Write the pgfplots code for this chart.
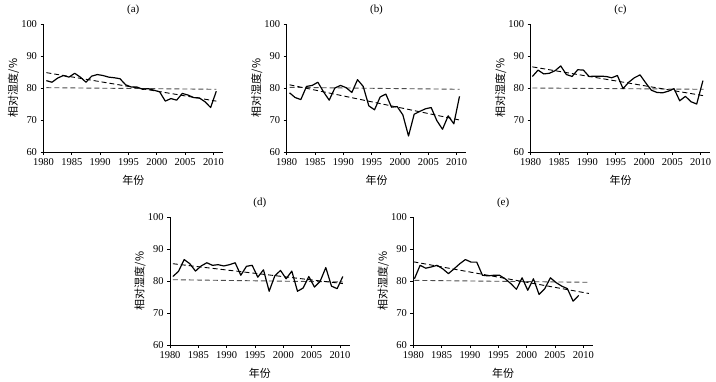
\documentclass[border=0pt]{standalone}
\usepackage{pgfplots}
\pgfplotsset{compat=1.18}
\usepackage{fontspec}
\setmainfont{Liberation Serif}
\newfontfamily\cjk{Noto Sans CJK SC}
\begin{document}
\begin{tikzpicture}
\pgfplotsset{
 panel/.style={
  scale only axis, width=179.6bp, height=128bp,
  xmin=1980, xmax=2011.7, ymin=60, ymax=100,
  axis lines*=left,
  axis line style={line width=0.8pt},
  xtick={1980,1985,...,2010}, ytick={60,70,80,90,100},
  tick align=outside, major tick length=3bp,
  every tick/.style={black, line width=0.8pt},
  tick label style={font=\fontsize{10.5}{12}\selectfont},
  /pgf/number format/assume math mode=true,
  /pgf/number format/1000 sep={},
  xlabel={\cjk 年份}, ylabel={\cjk 相对湿度/\%},
  label style={font=\fontsize{11}{13}\selectfont},
  xlabel style={at={(axis description cs:0.5,-0.219)}, anchor=center},
  ylabel style={at={(axis description cs:-0.167,0.5)}, anchor=center},
  every axis title shift=0pt,
  title style={at={(axis description cs:0.5,1.109)}, anchor=center, font=\fontsize{11}{12}\selectfont},
  clip=false,
 },
 data/.style={black, line width=1.2pt, line join=round, no markers},
 trend/.style={black, line width=0.9pt, dash pattern=on 5bp off 3bp, no markers},
 ref/.style={black!70, line width=0.9pt, dash pattern=on 5bp off 3bp, no markers},
}
\useasboundingbox (0,0) rectangle (716bp,382bp);

% (a)
\begin{axis}[panel, at={(43.5bp,230bp)}, anchor=south west, title={(a)}]
\addplot[ref] coordinates {(1980.5,80.1) (2010.5,79.6)};
\addplot[trend] coordinates {(1980.5,84.8) (2010.5,75.9)};
\addplot[data] coordinates {
(1980.5,82.3) (1981.5,81.8) (1982.5,83.1) (1983.5,83.9) (1984.5,83.4) (1985.5,84.6)
(1986.5,83.4) (1987.5,81.8) (1988.5,83.7) (1989.5,84.2) (1990.5,83.9) (1991.5,83.4)
(1992.5,83.2) (1993.5,82.9) (1994.5,81.0) (1995.5,80.3) (1996.5,80.3) (1997.5,79.6)
(1998.5,79.8) (1999.5,79.3) (2000.5,78.8) (2001.5,75.9) (2002.5,76.7) (2003.5,76.2)
(2004.5,78.3) (2005.5,77.8) (2006.5,77.0) (2007.5,76.9) (2008.5,75.7) (2009.5,73.9)
(2010.5,79.0)};
\end{axis}

% (b)
\begin{axis}[panel, at={(286.7bp,230bp)}, anchor=south west, title={(b)}]
\addplot[ref] coordinates {(1980.5,80.2) (2010.5,79.6)};
\addplot[trend] coordinates {(1980.5,81.0) (2010.5,70.0)};
\addplot[data] coordinates {
(1980.5,78.5) (1981.5,77.0) (1982.5,76.4) (1983.5,80.5) (1984.5,80.8) (1985.5,81.8)
(1986.5,78.8) (1987.5,76.2) (1988.5,80.0) (1989.5,80.8) (1990.5,80.1) (1991.5,78.6)
(1992.5,82.6) (1993.5,80.5) (1994.5,74.4) (1995.5,73.2) (1996.5,77.2) (1997.5,78.1)
(1998.5,74.0) (1999.5,74.2) (2000.5,71.6) (2001.5,65.0) (2002.5,71.8) (2003.5,72.7)
(2004.5,73.5) (2005.5,73.9) (2006.5,69.8) (2007.5,67.1) (2008.5,71.3) (2009.5,68.8)
(2010.5,77.4)};
\end{axis}

% (c)
\begin{axis}[panel, at={(530.7bp,230bp)}, anchor=south west, title={(c)}]
\addplot[ref] coordinates {(1980.3,80.0) (2010.5,79.6)};
\addplot[trend] coordinates {(1980.3,86.6) (2010.5,77.6)};
\addplot[data] coordinates {
(1980.3,83.6) (1981.3,85.6) (1982.3,84.4) (1983.3,84.6) (1984.3,85.4) (1985.3,86.9)
(1986.3,84.2) (1987.3,83.6) (1988.3,85.7) (1989.3,85.6) (1990.3,83.6) (1991.3,83.7)
(1992.3,83.7) (1993.3,83.6) (1994.3,83.2) (1995.3,83.9) (1996.3,79.8) (1997.3,81.8)
(1998.3,83.2) (1999.3,84.1) (2000.3,81.6) (2001.3,79.3) (2002.3,78.6) (2003.3,78.5)
(2004.3,79.0) (2005.3,79.8) (2006.3,76.0) (2007.3,77.4) (2008.3,75.7) (2009.3,75.0)
(2010.4,82.3)};
\end{axis}

% (d)
\begin{axis}[panel, at={(170bp,37bp)}, anchor=south west, title={(d)}]
\addplot[ref] coordinates {(1980.5,80.4) (2010.5,79.7)};
\addplot[trend] coordinates {(1980.5,85.4) (2010.5,79.2)};
\addplot[data] coordinates {
(1980.5,81.4) (1981.5,83.0) (1982.5,86.7) (1983.5,85.4) (1984.5,83.1) (1985.5,84.7)
(1986.5,85.7) (1987.5,84.9) (1988.5,85.1) (1989.5,84.7) (1990.5,85.1) (1991.5,85.7)
(1992.5,81.8) (1993.5,84.6) (1994.5,84.9) (1995.5,81.2) (1996.5,83.5) (1997.5,76.8)
(1998.5,81.6) (1999.5,83.3) (2000.5,80.7) (2001.5,83.1) (2002.5,76.8) (2003.5,77.8)
(2004.5,81.4) (2005.5,78.1) (2006.5,79.9) (2007.5,84.2) (2008.5,78.4) (2009.5,77.6)
(2010.5,81.4)};
\end{axis}

% (e)
\begin{axis}[panel, at={(413.3bp,37bp)}, anchor=south west, title={(e)}]
\addplot[ref] coordinates {(1980.2,80.2) (2010.8,79.6)};
\addplot[trend] coordinates {(1980.0,86.0) (2011.0,76.1)};
\addplot[data] coordinates {
(1980.2,80.7) (1981.2,84.9) (1982.2,84.0) (1983.2,84.4) (1984.2,84.9) (1985.2,83.8)
(1986.2,82.3) (1987.2,83.8) (1988.2,85.4) (1989.2,86.7) (1990.2,85.9) (1991.2,85.9)
(1992.2,81.8) (1993.2,81.6) (1994.2,81.8) (1995.2,81.8) (1996.2,80.7) (1997.2,79.2)
(1998.2,77.4) (1999.2,81.0) (2000.2,77.1) (2001.2,80.7) (2002.2,75.8) (2003.2,77.6)
(2004.2,81.0) (2005.2,79.5) (2006.2,78.4) (2007.2,77.6) (2008.2,73.7) (2009.2,75.5)};
\end{axis}
\end{tikzpicture}
\end{document}
